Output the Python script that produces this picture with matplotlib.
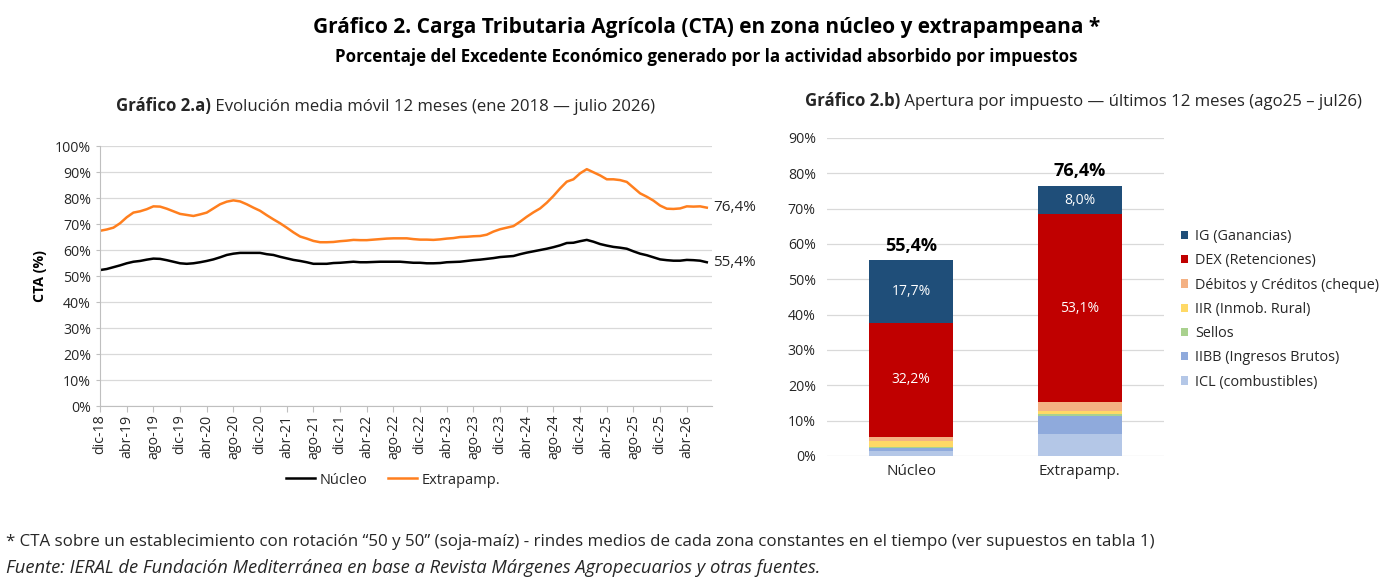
import matplotlib
matplotlib.use("Agg")
from matplotlib import pyplot as plt
from matplotlib.ticker import FuncFormatter
from matplotlib.lines import Line2D

plt.rcParams['font.family'] = ['Open Sans', 'DejaVu Sans']

# --- datos grafico 2.a (media movil 12 meses, dic-18 .. jul-26) ---
meses_es = ["ene", "feb", "mar", "abr", "may", "jun", "jul", "ago", "sep", "oct", "nov", "dic"]
meses = ["dic-18"] + [f"{meses_es[m]}-{y % 100:02d}" for y in range(2019, 2027) for m in range(12)]
meses = meses[:92]

nucleo = [52.4, 52.8, 53.5, 54.2, 55.0, 55.6, 55.9, 56.4, 56.8, 56.7,
          56.2, 55.6, 55.0, 54.8, 55.0, 55.4, 55.9, 56.5, 57.3, 58.2,
          58.7, 59.0, 59.0, 59.0, 59.0, 58.5, 58.2, 57.5, 56.9, 56.3,
          55.9, 55.4, 54.8, 54.8, 54.8, 55.1, 55.2, 55.4, 55.6, 55.4,
          55.4, 55.5, 55.6, 55.6, 55.6, 55.6, 55.4, 55.2, 55.2, 55.0,
          55.0, 55.1, 55.4, 55.5, 55.6, 55.9, 56.2, 56.4, 56.7, 57.0,
          57.4, 57.6, 57.8, 58.5, 59.1, 59.6, 60.1, 60.6, 61.2, 61.9,
          62.8, 62.9, 63.5, 64.0, 63.3, 62.4, 61.8, 61.3, 61.0, 60.6,
          59.6, 58.7, 58.1, 57.3, 56.5, 56.2, 56.0, 56.0, 56.3, 56.2,
          56.0, 55.4]
extrapamp = [67.5, 68.0, 68.7, 70.4, 72.7, 74.5, 75.0, 75.8, 76.9, 76.8,
             76.0, 75.0, 74.0, 73.6, 73.2, 73.8, 74.5, 76.1, 77.7, 78.7,
             79.2, 78.8, 77.7, 76.4, 75.2, 73.5, 71.9, 70.4, 68.7, 66.9,
             65.3, 64.5, 63.6, 63.1, 63.1, 63.2, 63.5, 63.7, 64.0, 63.9,
             63.9, 64.1, 64.3, 64.5, 64.6, 64.6, 64.6, 64.3, 64.1, 64.1,
             64.0, 64.2, 64.5, 64.7, 65.1, 65.2, 65.4, 65.5, 66.0, 67.2,
             68.1, 68.7, 69.3, 71.0, 72.9, 74.6, 76.1, 78.3, 80.9, 83.8,
             86.4, 87.3, 89.6, 91.2, 90.0, 88.8, 87.3, 87.3, 87.0, 86.3,
             84.1, 81.9, 80.6, 79.1, 77.2, 76.0, 75.9, 76.1, 76.9, 76.8,
             76.9, 76.4]

# --- datos grafico 2.b (apertura por impuesto) ---
zonas = ["Núcleo", "Extrapamp."]
impuestos = ["ICL (combustibles)", "IIBB (Ingresos Brutos)", "Sellos", "IIR (Inmob. Rural)",
             "Débitos y Créditos (cheque)", "DEX (Retenciones)", "IG (Ganancias)"]
icl = [1.5, 6.1]
iibb = [0.8, 5.3]
sellos = [0.2, 0.6]
iir = [1.7, 0.8]
debitos = [1.3, 2.5]
dex = [32.2, 53.1]
ig = [17.7, 8.0]
totales = [55.4, 76.4]

colores = ["#b4c7e7", "#8faadc", "#a9d18e", "#ffd966", "#f4b183", "#c00000", "#1f4e79"]
GRID = "#d9d9d9"
TXT = "#262626"


def pct(v):
    return f"{v:.1f}%".replace(".", ",")


fig = plt.figure(figsize=(13.84, 5.84), dpi=100)

# titulos
fig.text(0.5105, 0.953, "Gráfico 2. Carga Tributaria Agrícola (CTA) en zona núcleo y extrapampeana *",
         ha="center", va="center", fontsize=15, fontweight="bold", color="black")
fig.text(0.5105, 0.903, "Porcentaje del Excedente Económico generado por la actividad absorbido por impuestos",
         ha="center", va="center", fontsize=12.2, fontweight="bold", color="black")

# ---------- grafico 2.a ----------
ax1 = fig.add_axes([0.0723, 0.3043, 0.4420, 0.4452])
x = list(range(len(meses)))
ax1.plot(x, nucleo, color="black", lw=1.8)
ax1.plot(x, extrapamp, color="#ff7f1e", lw=1.8)
ax1.set_xlim(0, 91.75)
ax1.set_ylim(0, 100)
ax1.set_yticks(range(0, 101, 10))
ax1.yaxis.set_major_formatter(FuncFormatter(lambda v, p: f"{v:.0f}%"))
ax1.set_xticks(x[::4])
ax1.set_xticklabels(meses[::4], rotation=90, fontsize=10.2, color=TXT)
ax1.tick_params(axis="y", labelsize=10.2, labelcolor=TXT, length=3, color="#bfbfbf")
ax1.tick_params(axis="x", length=4, color="#bfbfbf", pad=2)
ax1.grid(axis="y", color=GRID, lw=0.9)
ax1.set_axisbelow(True)
for s in ["top", "right"]:
    ax1.spines[s].set_visible(False)
for s in ["left", "bottom"]:
    ax1.spines[s].set_color("#bfbfbf")
ax1.set_ylabel("CTA (%)", fontsize=10.2, fontweight="bold", color="black", labelpad=6)
ax1.text(91.9, nucleo[-1], pct(nucleo[-1]), fontsize=11, color=TXT, va="center", ha="left")
ax1.text(91.9, extrapamp[-1], pct(extrapamp[-1]), fontsize=11, color=TXT, va="center", ha="left")
handles = [Line2D([], [], color="black", lw=1.8), Line2D([], [], color="#ff7f1e", lw=1.8)]
fig.legend(handles, ["Núcleo", "Extrapamp."], loc="center", bbox_to_anchor=(0.284, 0.178),
           ncol=2, frameon=False, fontsize=10.5, handlelength=2.0, columnspacing=1.4,
           handletextpad=0.3, labelcolor=TXT)

t1 = fig.text(0.0838, 0.81, "Gráfico 2.a)", ha="left", va="baseline", fontsize=12.1,
              fontweight="bold", color=TXT)
ax1.annotate(" Evolución media móvil 12 meses (ene 2018 — julio 2026)", xy=(1, 0), xycoords=t1,
             va="bottom", ha="left", fontsize=12.1, color=TXT, annotation_clip=False)

# ---------- grafico 2.b ----------
ax2 = fig.add_axes([0.5975, 0.2192, 0.2435, 0.5445])
series = [icl, iibb, sellos, iir, debitos, dex, ig]
base = [0.0, 0.0]
pos = [0, 1]
for nombre, vals, col in zip(impuestos, series, colores):
    ax2.bar(pos, vals, bottom=base, width=0.5, color=col, label=nombre)
    base = [b + v for b, v in zip(base, vals)]

bottom_dex = [icl[i] + iibb[i] + sellos[i] + iir[i] + debitos[i] for i in range(2)]
for i in range(2):
    ax2.text(i, bottom_dex[i] + dex[i] / 2, pct(dex[i]),
             ha="center", va="center", color="white", fontsize=10)
    ax2.text(i, bottom_dex[i] + dex[i] + ig[i] / 2, pct(ig[i]),
             ha="center", va="center", color="white", fontsize=10)
    ax2.text(i, totales[i] + 1.6, pct(totales[i]),
             ha="center", va="bottom", color="black", fontsize=13, fontweight="bold")

ax2.set_xlim(-0.5, 1.5)
ax2.set_ylim(0, 90)
ax2.set_yticks(range(0, 91, 10))
ax2.yaxis.set_major_formatter(FuncFormatter(lambda v, p: f"{v:.0f}%"))
ax2.set_xticks(pos)
ax2.set_xticklabels(zonas, fontsize=11, color=TXT)
ax2.tick_params(axis="y", labelsize=10.2, labelcolor=TXT, length=0, pad=8)
ax2.tick_params(axis="x", length=0, pad=6)
ax2.grid(axis="y", color=GRID, lw=0.9)
ax2.set_axisbelow(True)
for s in ["top", "right", "left", "bottom"]:
    ax2.spines[s].set_visible(False)

h, l = ax2.get_legend_handles_labels()
fig.legend(h[::-1], l[::-1], loc="upper left", bbox_to_anchor=(0.844, 0.63), frameon=False,
           fontsize=10.4, handlelength=0.5, handleheight=0.5, handletextpad=0.45,
           labelspacing=0.64, labelcolor=TXT)

t2 = fig.text(0.5815, 0.818, "Gráfico 2.b)", ha="left", va="baseline", fontsize=12.1,
              fontweight="bold", color=TXT)
ax2.annotate(" Apertura por impuesto — últimos 12 meses (ago25 – jul26)", xy=(1, 0), xycoords=t2,
             va="bottom", ha="left", fontsize=12.1, color=TXT, annotation_clip=False)

# notas
fig.text(0.004, 0.072, "* CTA sobre un establecimiento con rotación “50 y 50” (soja-maíz) - rindes medios "
         "de cada zona constantes en el tiempo (ver supuestos en tabla 1)",
         ha="left", va="center", fontsize=12.2, color=TXT)
fig.text(0.004, 0.027, "Fuente: IERAL de Fundación Mediterránea en base a Revista Márgenes "
         "Agropecuarios y otras fuentes.", ha="left", va="center", fontsize=13.2,
         style="italic", color=TXT)

fig.savefig("out.png", dpi=100)
